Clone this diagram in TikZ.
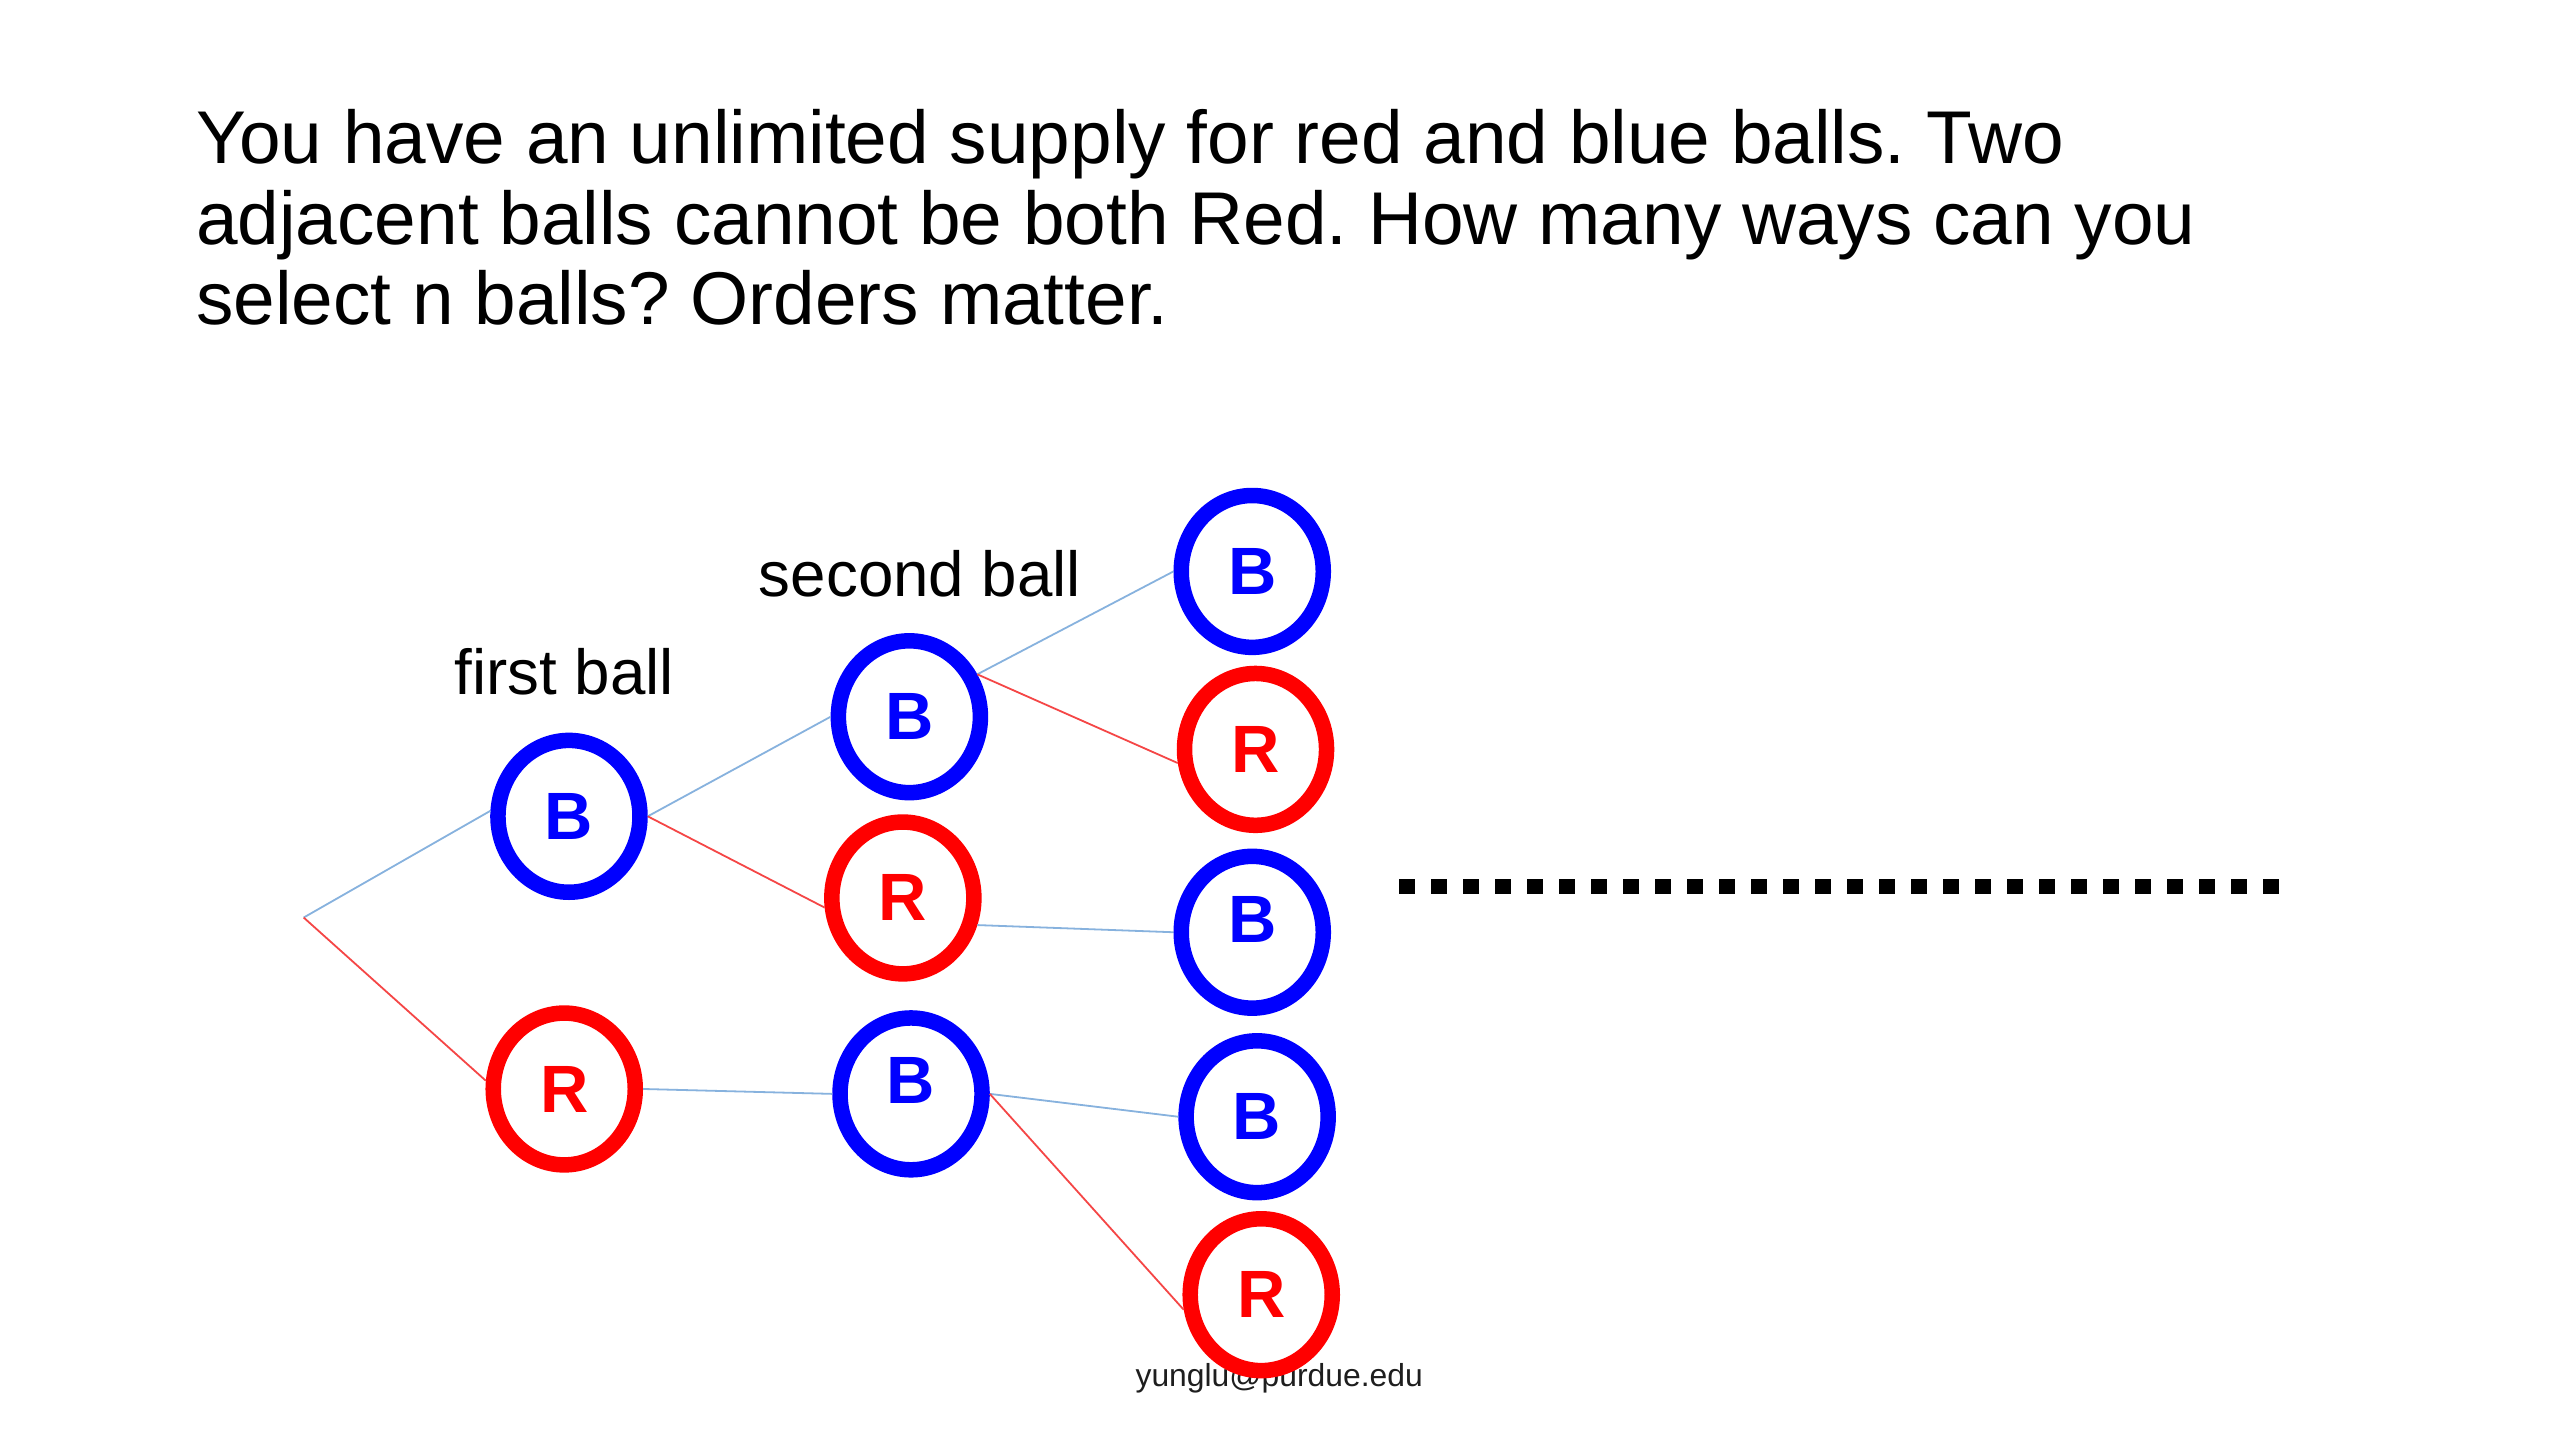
\documentclass[tikz,border=0pt]{standalone}
\usepackage{fontspec}
\setmainfont{Liberation Sans}
\usetikzlibrary{shapes.geometric}
\frenchspacing
\definecolor{ballblue}{RGB}{0,0,255}
\definecolor{ballred}{RGB}{255,0,0}
\definecolor{edgeblue}{RGB}{135,178,222}
\definecolor{edgered}{RGB}{245,70,70}
\definecolor{footgray}{RGB}{30,30,30}
\tikzset{
  ball/.style={ellipse, draw, line width=9.5pt, minimum width=87pt, minimum height=93pt,
    inner sep=0pt, fill=white, font=\fontsize{41}{41}\selectfont\bfseries},
  bball/.style={ball, draw=ballblue, text=ballblue},
  rball/.style={ball, draw=ballred, text=ballred},
  bedge/.style={draw=edgeblue, line width=1.1pt},
  redge/.style={draw=edgered, line width=1.1pt},
  titletext/.style={anchor=base west, inner sep=0pt, font=\fontsize{45.8}{50}\selectfont},
  labeltext/.style={anchor=base, inner sep=0pt, font=\fontsize{39}{39}\selectfont},
  dotline/.style={line width=9.6pt, dash pattern=on 9.8pt off 9.8pt}
}
\begin{document}
\begin{tikzpicture}[x=1pt,y=-1pt]
\useasboundingbox[fill=white] (0,0) rectangle (1568,882);
% title
\node[titletext] (t1) at (120,100) {You have an unlimited supply for red and blue balls. Two};
\node[titletext] (t2) at (120,150) {adjacent balls cannot be both Red. How many ways can you};
\node[titletext] (t3) at (120,199) {select n balls? Orders matter.};
% labels
\node[labeltext] (l1) at (345.7,425.4) {first ball};
\node[labeltext] (l2) at (563.5,365.6) {second ball};
% footer
\node[anchor=base, inner sep=0pt, text=footgray, font=\fontsize{19.5}{20}\selectfont] (foot) at (783.5,849) {yunglu@purdue.edu};
% root
\coordinate (root) at (186,562);
% balls
\node[bball] (b1) at (348.5,500) {B};
\node[rball] (r1) at (345.6,667) {R};
\node[bball] (b2a) at (557,439) {B};
\node[rball] (r2) at (553,550) {R};
\node[bball] (b2b) at (558,670) {\raisebox{16pt}{B}};
\node[bball] (b3a) at (767,350) {B};
\node[rball] (r3a) at (769,459) {R};
\node[bball] (b3b) at (767,571) {\raisebox{16pt}{B}};
\node[bball] (b3c) at (770,684) {B};
\node[rball] (r3b) at (772.5,793) {R};
% edges
\draw[bedge] (root) -- (b1.176);
\draw[redge] (root) -- (r1.174);
\draw[bedge] (b1.east) -- (b2a.west);
\draw[redge] (b1.east) -- (r2.187);
\draw[bedge] (r1.east) -- (b2b.west);
\draw[bedge] (b2a.32) -- (b3a.west);
\draw[redge] (b2a.32) -- (r3a.190);
\draw[bedge] (r2.-20) -- (b3b.west);
\draw[bedge] (b2b.east) -- (b3c.west);
\draw[redge] (b2b.east) -- (r3b.191);
% dots
\coordinate (d0) at (857,543);
\coordinate (d1) at (1396.5,543);
\draw[dotline] (d0) -- (d1);
\end{tikzpicture}
\end{document}
